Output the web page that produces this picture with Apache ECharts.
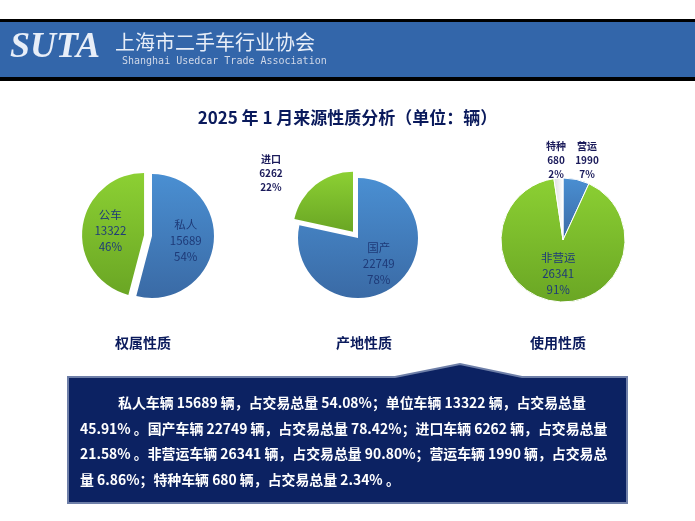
<!DOCTYPE html><html><head><meta charset="utf-8"><script src="https://cdn.jsdelivr.net/npm/echarts@6/dist/echarts.min.js"></script>
<style>body{margin:0}#c{width:695px;height:521px}</style></head><body><div id="c"></div><script>
const ownNames=['私人','公车'], ownVals=[15689,13322];
const originNames=['国产','进口'], originVals=[22749,6262];
const useNames=['营运','非营运','特种'], useVals=[1990,26341,680];
const groupTitles=['权属性质','产地性质','使用性质'];
const summaryLines=['私人车辆 15689 辆，占交易总量 54.08%；单位车辆 13322 辆，占交易总量','45.91% 。国产车辆 22749 辆，占交易总量 78.42%；进口车辆 6262 辆，占交易总量','21.58% 。非营运车辆 26341 辆，占交易总量 90.80%；营运车辆 1990 辆，占交易总','量 6.86%；特种车辆 680 辆，占交易总量 2.34% 。'];
const F='"Noto Sans CJK SC", sans-serif';
const blue={type:'linear',x:0,y:0,x2:0,y2:1,colorStops:[{offset:0,color:'#4a8fd2'},{offset:1,color:'#3a6aa5'}]};
const green={type:'linear',x:0,y:0,x2:0,y2:1,colorStops:[{offset:0,color:'#8cd033'},{offset:1,color:'#6aa624'}]};
const white={type:'linear',x:0,y:0,x2:1,y2:0,colorStops:[{offset:0,color:'#dddddd'},{offset:1,color:'#ffffff'}]};
const fmt=p=>p.name+'\n'+p.value+'\n'+Math.round(p.percent)+'%';
const inLbl={show:true,position:'inside',formatter:fmt,color:'#1e3a78',fontSize:11.5,lineHeight:16,fontFamily:F};
const outLbl={show:true,position:'outside',formatter:fmt,color:'#1a1a5a',fontSize:10,fontWeight:'bold',lineHeight:14,fontFamily:F,align:'center'};
function mk(names,vals,cols,center,r,sel,lbls,pos){return {type:'pie',center,radius:r,startAngle:90,clockwise:true,selectedMode:'single',selectedOffset:8,animation:false,
 labelLayout:pos?(p=>pos[p.dataIndex]?{x:pos[p.dataIndex][0],y:pos[p.dataIndex][1],align:'center',verticalAlign:'middle'}:{}):undefined,
 data:names.map((n,i)=>({name:n,value:vals[i],selected:sel===i,itemStyle:{color:cols[i],borderColor:'#fff',borderWidth:sel===-1?1:0},label:lbls[i],labelLine:{show:false}}))};}
const chart=echarts.init(document.getElementById('c'));
chart.setOption({
 title:{text:'2025 年 1 月来源性质分析（单位：辆）',left:'center',top:104,textStyle:{fontSize:17,fontWeight:'bold',color:'#0a1a5c',fontFamily:F}},
 graphic:[
  {type:'rect',shape:{x:0,y:19,width:695,height:62},style:{fill:'#000'}},
  {type:'rect',shape:{x:0,y:22,width:695,height:55},style:{fill:'#3366aa'}},
  {type:'text',left:10,top:30,style:{text:'SUTA',font:'italic bold 36px "Liberation Serif"',fill:'#e8eef8'}},
  {type:'text',left:115,top:32,style:{text:'上海市二手车行业协会',font:'20px "Noto Sans CJK SC"',fill:'#e8eef8'}},
  {type:'text',left:122,top:56,style:{text:'Shanghai Usedcar Trade Association',font:'10px "DejaVu Sans Mono"',fill:'#d0d8e8'}},
  {type:'text',left:115,top:336,style:{text:groupTitles[0],font:'bold 14px "Noto Sans CJK SC"',fill:'#0a1a5c'}},
  {type:'text',left:336,top:336,style:{text:groupTitles[1],font:'bold 14px "Noto Sans CJK SC"',fill:'#0a1a5c'}},
  {type:'text',left:530,top:336,style:{text:groupTitles[2],font:'bold 14px "Noto Sans CJK SC"',fill:'#0a1a5c'}},
  {type:'polygon',shape:{points:[[68,377],[395,377],[460,364],[522,377],[627,377],[627,503],[68,503]]},style:{fill:'#0c2262',stroke:'#6e7fa8',lineWidth:2}},
  ...summaryLines.map((t,i)=>({type:'text',left:i===0?118:80,top:396+i*25.5,style:{text:t,font:'bold 13.9px "Noto Sans CJK SC"',fill:'#fff'}}))
 ],
 series:[
  mk(ownNames,ownVals,[blue,green],[152,236],62,1,[inLbl,inLbl]),
  mk(originNames,originVals,[blue,green],[358,238],60,1,[inLbl,outLbl],[null,[304,167]]),
  mk(useNames,useVals,[blue,green,white],[563,240],62,-1,[outLbl,inLbl,outLbl],[[587,160],null,[556,160]])
 ]
});
</script></body></html>
